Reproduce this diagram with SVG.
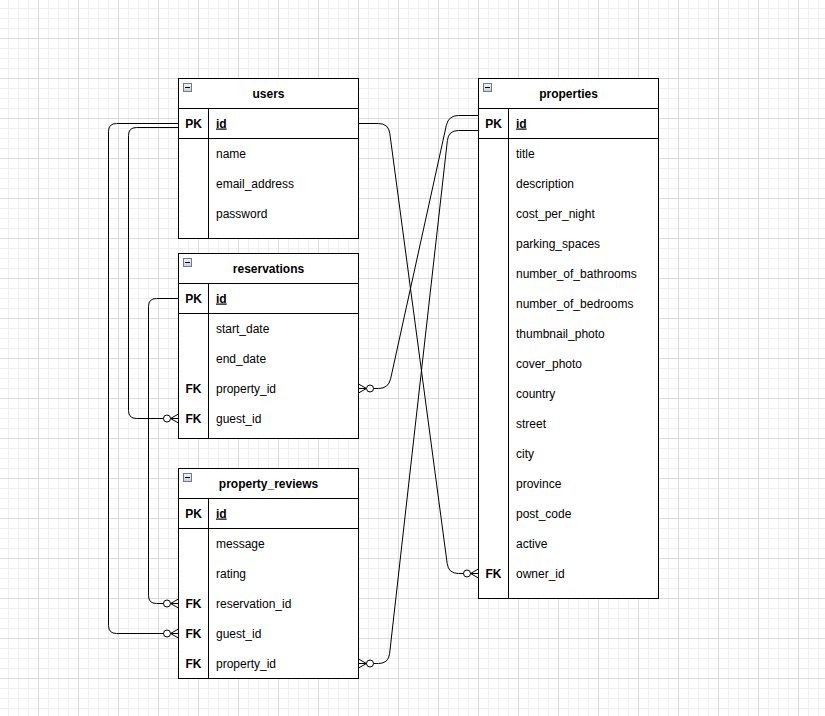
<svg xmlns="http://www.w3.org/2000/svg" width="825" height="716" viewBox="0 0 825 716">
  <style>
    .tbl { fill: #ffffff; stroke: #000000; stroke-width: 1; }
    .sep { stroke: #000000; stroke-width: 1; fill: none; }
    .title { font-family: "Liberation Sans", Arial, sans-serif; font-size: 12px; font-weight: bold; text-anchor: middle; fill: #000000; }
    .key { font-family: "Liberation Sans", Arial, sans-serif; font-size: 12px; font-weight: bold; text-anchor: middle; fill: #000000; }
    .pk { font-family: "Liberation Sans", Arial, sans-serif; font-size: 12px; font-weight: bold; text-decoration: underline; fill: #000000; }
    .fld { font-family: "Liberation Sans", Arial, sans-serif; font-size: 12px; fill: #000000; }
    .edge { fill: none; stroke: #000000; stroke-width: 1; }
    .icon { fill: url(#iconFill); stroke: #6f7a8a; stroke-width: 1; }
  </style>
  <defs>
    <pattern id="grid" width="40" height="40" x="-2" y="-2" patternUnits="userSpaceOnUse">
      <path d="M10.5,0 V40 M20.5,0 V40 M30.5,0 V40 M0,10.5 H40 M0,20.5 H40 M0,30.5 H40" stroke="#efefef" stroke-width="1" fill="none"/>
      <path d="M0.5,0 V40 M0,0.5 H40" stroke="#dcdcdc" stroke-width="1" fill="none"/>
    </pattern>
    <linearGradient id="iconFill" x1="0" y1="0" x2="0" y2="1">
      <stop offset="0" stop-color="#f2f4f7"/>
      <stop offset="1" stop-color="#c9ced6"/>
    </linearGradient>
    <!-- zero-or-many crow's foot, drawn at the entity side of a connector -->
    <marker id="zeroMany" markerUnits="userSpaceOnUse" orient="auto" markerWidth="30" markerHeight="20" viewBox="-20 -10 30 20" refX="0" refY="0" overflow="visible">
      <path d="M-8,0 L0,-4.5 M-8,0 L0,0 M-8,0 L0,4.5" fill="none" stroke="#000000" stroke-width="1"/>
      <circle cx="-11.5" cy="0" r="3.5" fill="#ffffff" stroke="#000000" stroke-width="1"/>
    </marker>
  </defs>

  <rect x="0" y="0" width="825" height="716" fill="#ffffff"/>
  <rect x="0" y="0" width="825" height="716" fill="url(#grid)"/>

  <!-- relationships -->
  <g id="connectors">
    <!-- users.id -> property_reviews.guest_id -->
    <path class="edge" marker-end="url(#zeroMany)" d="M178.5,123.5 L116.5,123.5 Q108.5,123.5 108.5,131.5 L108.5,625.5 Q108.5,633.5 116.5,633.5 L178.5,633.5"/>
    <!-- users.id -> reservations.guest_id -->
    <path class="edge" marker-end="url(#zeroMany)" d="M178.5,127.5 L136.5,127.5 Q128.5,127.5 128.5,135.5 L128.5,410.5 Q128.5,418.5 136.5,418.5 L178.5,418.5"/>
    <!-- reservations.id -> property_reviews.reservation_id -->
    <path class="edge" marker-end="url(#zeroMany)" d="M178.5,298.5 L156.5,298.5 Q148.5,298.5 148.5,306.5 L148.5,595.5 Q148.5,603.5 156.5,603.5 L178.5,603.5"/>
    <!-- users.id -> properties.owner_id -->
    <path class="edge" marker-end="url(#zeroMany)" d="M358.5,123.5 L378.5,123.5 Q388.5,123.5 389.8,133.4 L447.2,563.6 Q448.5,573.5 458.5,573.5 L478.5,573.5"/>
    <!-- properties.id -> reservations.property_id -->
    <path class="edge" marker-end="url(#zeroMany)" d="M478.5,115.5 L458.5,115.5 Q448.5,115.5 446.35,125.27 L390.65,378.73 Q388.5,388.5 378.5,388.5 L358.5,388.5"/>
    <!-- properties.id -> property_reviews.property_id -->
    <path class="edge" marker-end="url(#zeroMany)" d="M478.5,130.5 L458.5,130.5 Q448.5,130.5 447.38,140.44 L389.62,653.56 Q388.5,663.5 378.5,663.5 L358.5,663.5"/>
  </g>

  <!-- users -->
  <g id="users">
    <rect class="tbl" x="178.5" y="78.5" width="180" height="160"/>
    <path class="sep" d="M178.5,108.5 H358.5 M178.5,138.5 H358.5 M208.5,108.5 V238.5"/>
    <rect class="icon" x="183.5" y="83.5" width="8" height="8"/>
    <path class="sep" d="M185,87.5 H190"/>
    <text class="title" x="268.5" y="97.5">users</text>
    <text class="key" x="193.5" y="127.5">PK</text>
    <text class="pk" x="216" y="127.5">id</text>
    <text class="fld" x="216" y="157.5">name</text>
    <text class="fld" x="216" y="187.5">email_address</text>
    <text class="fld" x="216" y="217.5">password</text>
  </g>

  <!-- reservations -->
  <g id="reservations">
    <rect class="tbl" x="178.5" y="253.5" width="180" height="185"/>
    <path class="sep" d="M178.5,283.5 H358.5 M178.5,313.5 H358.5 M208.5,283.5 V438.5"/>
    <rect class="icon" x="183.5" y="258.5" width="8" height="8"/>
    <path class="sep" d="M185,262.5 H190"/>
    <text class="title" x="268.5" y="272.5">reservations</text>
    <text class="key" x="193.5" y="302.5">PK</text>
    <text class="pk" x="216" y="302.5">id</text>
    <text class="fld" x="216" y="332.5">start_date</text>
    <text class="fld" x="216" y="362.5">end_date</text>
    <text class="key" x="193.5" y="392.5">FK</text>
    <text class="fld" x="216" y="392.5">property_id</text>
    <text class="key" x="193.5" y="422.5">FK</text>
    <text class="fld" x="216" y="422.5">guest_id</text>
  </g>

  <!-- property_reviews -->
  <g id="property_reviews">
    <rect class="tbl" x="178.5" y="468.5" width="180" height="210"/>
    <path class="sep" d="M178.5,498.5 H358.5 M178.5,528.5 H358.5 M208.5,498.5 V678.5"/>
    <rect class="icon" x="183.5" y="473.5" width="8" height="8"/>
    <path class="sep" d="M185,477.5 H190"/>
    <text class="title" x="268.5" y="487.5">property_reviews</text>
    <text class="key" x="193.5" y="517.5">PK</text>
    <text class="pk" x="216" y="517.5">id</text>
    <text class="fld" x="216" y="547.5">message</text>
    <text class="fld" x="216" y="577.5">rating</text>
    <text class="key" x="193.5" y="607.5">FK</text>
    <text class="fld" x="216" y="607.5">reservation_id</text>
    <text class="key" x="193.5" y="637.5">FK</text>
    <text class="fld" x="216" y="637.5">guest_id</text>
    <text class="key" x="193.5" y="667.5">FK</text>
    <text class="fld" x="216" y="667.5">property_id</text>
  </g>

  <!-- properties -->
  <g id="properties">
    <rect class="tbl" x="478.5" y="78.5" width="180" height="520"/>
    <path class="sep" d="M478.5,108.5 H658.5 M478.5,138.5 H658.5 M508.5,108.5 V598.5"/>
    <rect class="icon" x="483.5" y="83.5" width="8" height="8"/>
    <path class="sep" d="M485,87.5 H490"/>
    <text class="title" x="568.5" y="97.5">properties</text>
    <text class="key" x="493.5" y="127.5">PK</text>
    <text class="pk" x="516" y="127.5">id</text>
    <text class="fld" x="516" y="157.5">title</text>
    <text class="fld" x="516" y="187.5">description</text>
    <text class="fld" x="516" y="217.5">cost_per_night</text>
    <text class="fld" x="516" y="247.5">parking_spaces</text>
    <text class="fld" x="516" y="277.5">number_of_bathrooms</text>
    <text class="fld" x="516" y="307.5">number_of_bedrooms</text>
    <text class="fld" x="516" y="337.5">thumbnail_photo</text>
    <text class="fld" x="516" y="367.5">cover_photo</text>
    <text class="fld" x="516" y="397.5">country</text>
    <text class="fld" x="516" y="427.5">street</text>
    <text class="fld" x="516" y="457.5">city</text>
    <text class="fld" x="516" y="487.5">province</text>
    <text class="fld" x="516" y="517.5">post_code</text>
    <text class="fld" x="516" y="547.5">active</text>
    <text class="key" x="493.5" y="577.5">FK</text>
    <text class="fld" x="516" y="577.5">owner_id</text>
  </g>
</svg>
